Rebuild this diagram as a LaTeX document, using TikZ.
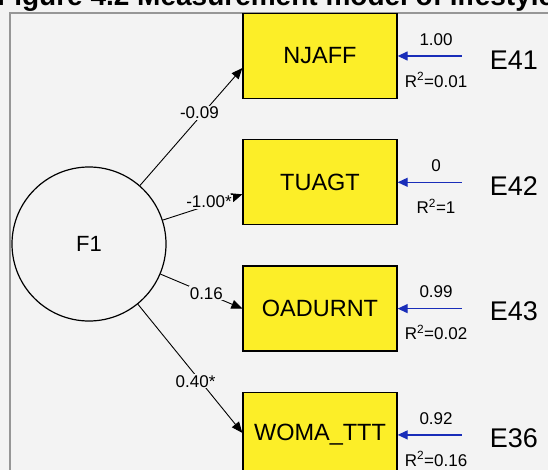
\documentclass[tikz,border=0pt]{standalone}
\usepackage{fontspec}
\setmainfont{Liberation Sans}
\usetikzlibrary{arrows.meta, positioning, calc}
\definecolor{mybg}{RGB}{243,243,243}
\definecolor{myframe}{RGB}{150,150,150}
\definecolor{myyellow}{RGB}{252,238,40}
\definecolor{myblue}{RGB}{25,45,185}
\tikzset{
  obsbox/.style={rectangle, draw=black, fill=myyellow, minimum width=154pt, minimum height=85pt, line width=1.3pt, font=\fontsize{23.5}{26}\selectfont},
  latent/.style={circle, draw=black, minimum size=154pt, line width=1.2pt, font=\fontsize{22}{24}\selectfont},
  errlabel/.style={font=\fontsize{27}{30}\selectfont, inner sep=2pt},
  coef/.style={font=\fontsize{17}{19}\selectfont, inner sep=1pt, text=black},
  loading/.style={-{Triangle[length=11pt,width=9pt]}, line width=0.9pt, color=black},
  errarrow/.style={-{Triangle[length=10pt,width=9pt]}, line width=1.3pt, color=myblue}
}
\begin{document}
\begin{tikzpicture}[x=1pt, y=-1pt]
  \useasboundingbox (0,0) rectangle (548,470);
  \clip (0,0) rectangle (548,470);
  \fill[mybg] (0,0) rectangle (548,470);
  % caption, cut by the top edge
  \node[anchor=base west, inner sep=0pt, font=\fontsize{28}{30}\selectfont\bfseries] (caption) at (-3,6) {Figure 4.2 Measurement model of lifestyle};
  % window frame
  \draw[myframe, line width=2pt] (548,13.5) -- (9.5,13.5) -- (9.5,470);

  % factor and indicators
  \node[latent] (f1) at (89,244) {F1};
  \node[obsbox] (njaff) at (320,56) {NJAFF};
  \node[obsbox, below=40pt of njaff] (tuagt) {TUAGT};
  \node[obsbox, below=40pt of tuagt] (oadurnt) {OADURNT};
  \node[obsbox, below=40pt of oadurnt] (woma) {WOMA\_TTT};

  % error terms
  \node[errlabel, right=90pt of njaff, yshift=-4pt] (e41) {E41};
  \node[errlabel, right=90pt of tuagt, yshift=-4pt] (e42) {E42};
  \node[errlabel, right=90pt of oadurnt, yshift=-3pt] (e43) {E43};
  \node[errlabel, right=90pt of woma, yshift=-3pt] (e36) {E36};
  \coordinate[right=64pt of njaff.east] (s41);
  \coordinate[right=64pt of tuagt.east] (s42);
  \coordinate[right=64pt of oadurnt.east] (s43);
  \coordinate[right=64pt of woma.east] (s36);

  \draw[errarrow] (s41) -- (njaff)
    node[coef, pos=0.4, above=9pt] {1.00}
    node[coef, pos=0.4, below=15pt] {R\textsuperscript{2}=0.01};
  \draw[errarrow] (s42) -- (tuagt)
    node[coef, pos=0.4, above=9pt] {0}
    node[coef, pos=0.4, below=15pt] {R\textsuperscript{2}=1};
  \draw[errarrow] (s43) -- (oadurnt)
    node[coef, pos=0.4, above=9pt] {0.99}
    node[coef, pos=0.4, below=15pt] {R\textsuperscript{2}=0.02};
  \draw[errarrow] (s36) -- (woma)
    node[coef, pos=0.4, above=9pt] {0.92}
    node[coef, pos=0.4, below=15pt] {R\textsuperscript{2}=0.16};

  % loadings
  \draw[loading] (f1) -- ([yshift=-12pt]njaff.west)
    node[coef, fill=mybg, pos=0.62, xshift=-4pt] {-0.09};
  \draw[loading] (f1) -- ([yshift=-12pt]tuagt.west)
    node[coef, fill=mybg, pos=0.58, yshift=3pt] {-1.00*};
  \draw[loading] (f1) -- (oadurnt.west)
    node[coef, fill=mybg, pos=0.56] {0.16};
  \draw[loading] (f1) -- ([yshift=2pt]woma.west)
    node[coef, fill=mybg, pos=0.6, xshift=-5pt] {0.40*};
\end{tikzpicture}
\end{document}
